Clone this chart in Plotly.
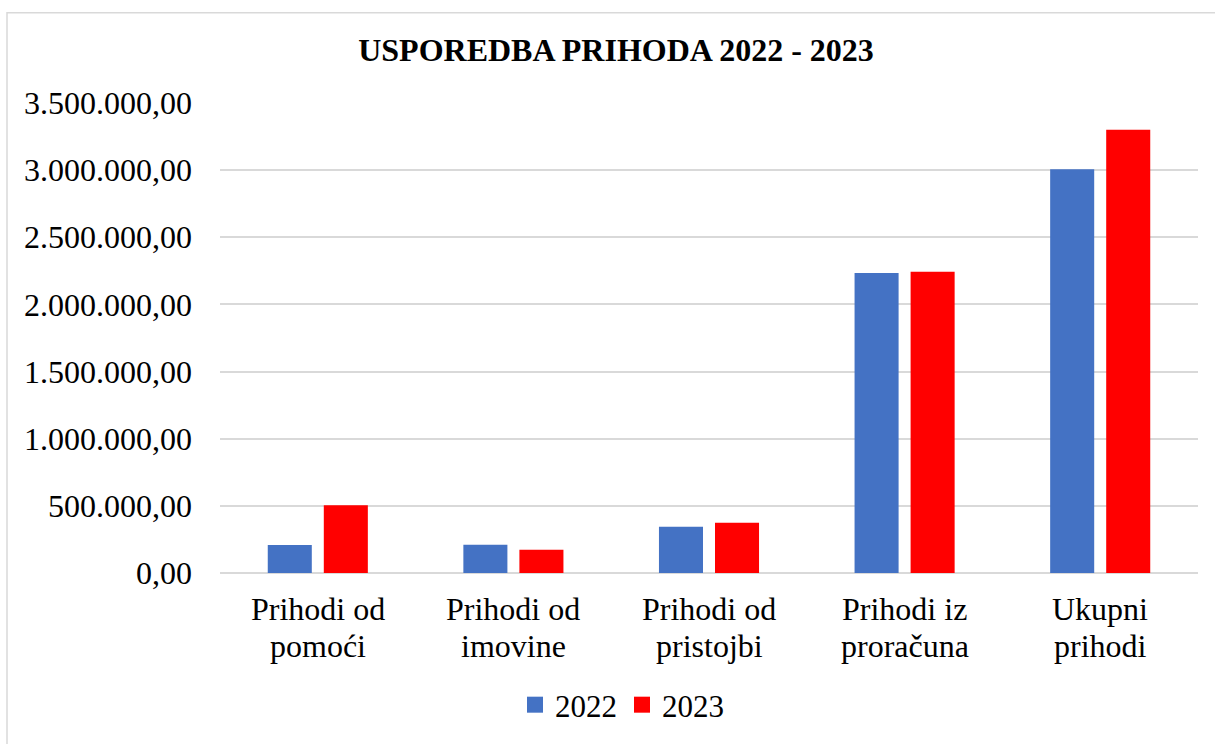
import plotly.graph_objects as go

categories = ["Prihodi od pomoći", "Prihodi od imovine", "Prihodi od pristojbi",
              "Prihodi iz proračuna", "Ukupni prihodi"]
label_line1 = ["Prihodi od", "Prihodi od", "Prihodi od", "Prihodi iz", "Ukupni"]
label_line2 = ["pomoći", "imovine", "pristojbi", "proračuna", "prihodi"]
values_2022 = [208000, 210000, 344000, 2234000, 3007000]
values_2023 = [505000, 173000, 374000, 2244000, 3300000]
series_names = ["2022", "2023"]
series_colors = ["#4472C4", "#FF0000"]
tick_vals = [0, 500000, 1000000, 1500000, 2000000, 2500000, 3000000, 3500000]
tick_text = ["0,00", "500.000,00", "1.000.000,00", "1.500.000,00", "2.000.000,00",
             "2.500.000,00", "3.000.000,00", "3.500.000,00"]
title_text = "<b>USPOREDBA PRIHODA 2022 - 2023</b>"

FONT = "Liberation Serif"

fig = go.Figure()
for name, vals, col in zip(series_names, [values_2022, values_2023], series_colors):
    fig.add_trace(go.Bar(x=categories, y=vals, name=name, marker_color=col,
                         marker_line_width=0, showlegend=False))
    fig.add_trace(go.Scatter(x=[None], y=[None], mode="markers", name=name,
                             marker=dict(symbol="square", size=16, color=col)))

W, H = 1215, 744
L, R, T, B = 220, 17, 103, 164
pw = W - L - R
ph = H - T - B

def px_x(p):
    return (p - L) / pw

def px_y(p):
    return (H - B - p) / ph

annotations = []
for cat, l1, l2 in zip(categories, label_line1, label_line2):
    annotations.append(dict(x=cat, xref="x", y=px_y(617), yref="paper", text=l1,
                            showarrow=False, xanchor="center", yanchor="middle",
                            font=dict(family=FONT, size=32, color="black")))
    annotations.append(dict(x=cat, xref="x", y=px_y(654), yref="paper", text=l2,
                            showarrow=False, xanchor="center", yanchor="middle",
                            font=dict(family=FONT, size=32, color="black")))

fig.update_layout(
    width=W, height=H,
    margin=dict(l=L, r=R, t=T, b=B),
    paper_bgcolor="white", plot_bgcolor="white",
    font=dict(family=FONT, color="black", size=32),
    title=dict(text=title_text, x=616 / W, xanchor="center", xref="container",
               y=1 - 50 / H, yanchor="middle", yref="container",
               font=dict(family=FONT, size=32, color="black")),
    barmode="group", bargap=0.427, bargroupgap=0.214,
    showlegend=True,
    legend=dict(orientation="h", x=px_x(622), xanchor="center",
                y=px_y(714), yanchor="middle",
                font=dict(family=FONT, size=31, color="black"),
                bgcolor="rgba(0,0,0,0)"),
    annotations=annotations,
    shapes=[dict(type="rect", xref="paper", yref="paper",
                 x0=px_x(7), x1=px_x(1225), y0=px_y(760), y1=px_y(11.5),
                 line=dict(color="#d9d9d9", width=1.5), fillcolor="rgba(0,0,0,0)",
                 layer="below")],
    xaxis=dict(showgrid=False, showline=False, ticks="", showticklabels=False),
    yaxis=dict(range=[0, 3500000], tickvals=tick_vals, ticktext=tick_text,
               showgrid=True, gridcolor="#d9d9d9", gridwidth=1.5,
               zeroline=True, zerolinecolor="#d9d9d9", zerolinewidth=1.5,
               showline=False, ticks="", ticklabelstandoff=27,
               tickfont=dict(family=FONT, size=32, color="black")),
)

fig.write_html("out.html", config={"displayModeBar": False})

with open("out.html", "r", encoding="utf-8") as f:
    html = f.read()
html = html.replace("<head>", "<head><style>html,body{margin:0;padding:0;overflow:hidden;}</style>", 1)
with open("out.html", "w", encoding="utf-8") as f:
    f.write(html)
